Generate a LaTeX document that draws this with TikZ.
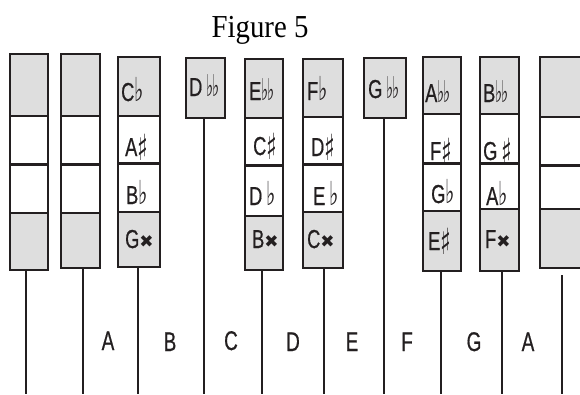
\documentclass[tikz,border=0pt]{standalone}
\usepackage{fontspec}
\setmainfont{Liberation Serif}
\newfontfamily\keyfont[FakeBold=0.7]{Liberation Sans}
\newfontfamily\symfont{DejaVu Sans}
\definecolor{keygray}{HTML}{DEDEDE}
\definecolor{ink}{HTML}{231F20}
% narrow letter and accidentals
\newcommand\nl[1]{\scalebox{0.7}[1]{#1}}
\newcommand\fl{\scalebox{0.6}[1]{\symfont\fontsize{33}{33}\selectfont ♭}}
\newcommand\dfl{\scalebox{0.5}[1]{\symfont\fontsize{30}{30}\selectfont ♭\kern-2pt♭}}
\newcommand\sh{\raisebox{-4pt}{\scalebox{0.62}[1]{\symfont\fontsize{36}{36}\selectfont ♯}}}
\newcommand\dsh{\raisebox{1pt}{\symfont\fontsize{17}{17}\selectfont ✖}}
\tikzset{
  cellbox/.style={draw=ink, line width=2pt, inner sep=0pt, rectangle},
  graycell/.style={cellbox, fill=keygray},
  whitecell/.style={cellbox, fill=white},
  stem/.style={draw=ink, line width=1.8pt},
  lab/.style={inner sep=0pt, anchor=base west,
    font=\keyfont\fontsize{26}{26}\selectfont, text=ink},
  bottomlab/.style={inner sep=0pt, anchor=base,
    font=\keyfont\fontsize{27}{27}\selectfont, text=ink},
}
% one cell: name, x0, x1, ytop, ybottom, style
\newcommand\keycell[6]{%
  \pgfmathsetmacro\cw{#3-#2}\pgfmathsetmacro\ch{#5-#4}%
  \pgfmathsetmacro\cx{(#2+#3)/2}\pgfmathsetmacro\cy{(#4+#5)/2}%
  \node[#6, minimum width=\cw pt, minimum height=\ch pt] (#1) at (\cx,\cy) {};}
% a four-cell column: prefix, x0, x1, y0, y1, y2, y3, y4
\newcommand\keycolumn[8]{%
  \keycell{#1a}{#2}{#3}{#4}{#5}{graycell}
  \keycell{#1b}{#2}{#3}{#5}{#6}{whitecell}
  \keycell{#1c}{#2}{#3}{#6}{#7}{whitecell}
  \keycell{#1d}{#2}{#3}{#7}{#8}{graycell}
  \draw[ink, line width=2.6pt] (#1b.south west) -- (#1b.south east);}
\begin{document}
\begin{tikzpicture}[x=1pt, y=-1pt]
\useasboundingbox (0,0) rectangle (580,394);
\fill[white] (0,0) rectangle (580,394);
\clip (0,0) rectangle (580,394);

\node[inner sep=0pt, anchor=base] (title) at (260,37)
  {\scalebox{0.9}[1]{\fontsize{32}{32}\selectfont Figure 5}};

% columns of cells
\keycolumn{k1}{10}{48}{54}{116}{164}{213}{270}
\keycolumn{k2}{61}{100}{54}{116}{164}{213}{268}
\keycolumn{k3}{118}{160}{57}{116}{163}{212}{267}
\keycell{k4}{186}{225}{58}{118}{graycell}
\keycolumn{k5}{245}{283}{59}{118}{165}{216}{270}
\keycolumn{k6}{303}{343}{59}{117}{164}{212}{268}
\keycell{k7}{364}{406}{58}{118}{graycell}
\keycolumn{k8}{423}{461}{57}{114}{163}{211}{271}
\keycolumn{k9}{480}{519}{57}{114}{163}{209}{271}
\keycolumn{k10}{540}{600}{57}{117}{165}{209}{268}

% cell labels
\node[lab] (t3a) at (121,101) {\nl{C}\fl};
\node[lab] (t3b) at (125,156) {\nl{A}\sh};
\node[lab] (t3c) at (126,204) {\nl{B}\fl};
\node[lab] (t3d) at (125,248) {\nl{G}\dsh};
\node[lab] (t4)  at (189,96)  {\nl{D}\,\dfl};
\node[lab] (t5a) at (249,100) {\nl{E}\dfl};
\node[lab] (t5b) at (253,155) {\nl{C}\sh};
\node[lab] (t5c) at (249,205) {\nl{D}\,\fl};
\node[lab] (t5d) at (252,248) {\nl{B}\dsh};
\node[lab] (t6a) at (307,100) {\nl{F}\fl};
\node[lab] (t6b) at (311,156) {\nl{D}\sh};
\node[lab] (t6c) at (313,205) {\nl{E}\,\fl};
\node[lab] (t6d) at (307,248) {\nl{C}\dsh};
\node[lab] (t7)  at (368,98)  {\nl{G}\,\dfl};
\node[lab] (t8a) at (425,102) {\nl{A}\dfl};
\node[lab] (t8b) at (430,160) {\nl{F}\sh};
\node[lab] (t8c) at (431,203) {\nl{G}\fl};
\node[lab] (t8d) at (428,250) {\nl{E}\sh};
\node[lab] (t9a) at (483,102) {\nl{B}\dfl};
\node[lab] (t9b) at (483,160) {\nl{G}\,\sh};
\node[lab] (t9c) at (486,205) {\nl{A}\fl};
\node[lab] (t9d) at (485,248) {\nl{F}\dsh};

% stems down to the bottom edge
\coordinate (e1) at (26,394);
\coordinate (e2) at (83,394);
\coordinate (e3) at (138,394);
\coordinate (e4) at (204,394);
\coordinate (e5) at (262,394);
\coordinate (e6) at (324,394);
\coordinate (e7) at (384,394);
\coordinate (e8) at (441,394);
\coordinate (e9) at (502,394);
\coordinate (e10) at (562,394);
\draw[stem] (e1 |- k1d.south) -- (e1);
\draw[stem] (e2 |- k2d.south) -- (e2);
\draw[stem] (e3 |- k3d.south) -- (e3);
\draw[stem] (e4 |- k4.south) -- (e4);
\draw[stem] (e5 |- k5d.south) -- (e5);
\draw[stem] (e6 |- k6d.south) -- (e6);
\draw[stem] (e7 |- k7.south) -- (e7);
\draw[stem] (e8 |- k8d.south) -- (e8);
\draw[stem] (e9 |- k9d.south) -- (e9);
\draw[stem] ([yshift=-6pt]e10 |- k10d.south) -- (e10);

% note names between the stems
\node[bottomlab] (nA1) at (108,350) {\nl{A}};
\node[bottomlab] (nB)  at (170,351) {\nl{B}};
\node[bottomlab] (nC)  at (231,350) {\nl{C}};
\node[bottomlab] (nD)  at (293,351) {\nl{D}};
\node[bottomlab] (nE)  at (352,351) {\nl{E}};
\node[bottomlab] (nF)  at (407,351) {\nl{F}};
\node[bottomlab] (nG)  at (474,351) {\nl{G}};
\node[bottomlab] (nA2) at (528,351) {\nl{A}};
\end{tikzpicture}
\end{document}
